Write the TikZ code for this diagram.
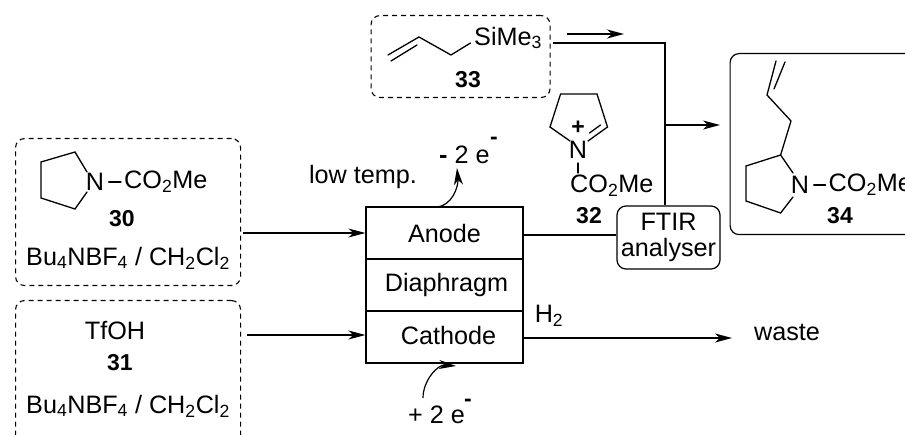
\documentclass[tikz,border=0pt]{standalone}
\usepackage{fontspec}
\setmainfont{Liberation Sans}
\usetikzlibrary{arrows.meta}
\newcommand{\ttl}{\fontsize{25.2}{29}\selectfont}
\newcommand{\numf}{\fontsize{23}{27}\selectfont\bfseries}
\newcommand{\textdn}[1]{\textsubscript{#1}}
\tikzset{
    feedbox/.style={draw, dash pattern=on 5pt off 4pt, rounded corners=9pt, line width=1.1pt, anchor=north west},
    cell/.style={draw, line width=1.2pt, minimum width=157pt, minimum height=52pt, inner sep=0pt},
    bond/.style={line width=1.3pt, line cap=round},
    flow/.style={line width=1.2pt, -{Stealth[length=17pt,width=9pt,inset=5pt]}},
    pipe/.style={line width=1.2pt},
    atom/.style={inner sep=1.5pt},
    lbl/.style={inner sep=0pt}
}
\begin{document}
\begin{tikzpicture}[x=1pt, y=-1pt, font=\ttl]
        \clip (0,0) rectangle (905,435);

        % Feed boxes
        \node[feedbox, minimum width=225pt, minimum height=147pt] (feed30) at (15,138) {};
        \node[feedbox, minimum width=225pt, minimum height=150pt] (feed31) at (15,300) {};
        \node[feedbox, minimum width=179pt, minimum height=82pt] (feed33) at (370.5,15) {};
        \node[draw, line width=1.2pt, rounded corners=9pt, anchor=north west, minimum width=240pt, minimum height=181pt] (prod34) at (729.5,53) {};

        % Cell
        \node[cell] (anode) at (444.5,233) {Anode};
        \node[cell] (diaphragm) at (444.5,285) {\hspace*{4pt}Diaphragm};
        \node[cell] (cathode) at (444.5,337) {\hspace*{8pt}\raisebox{3pt}{Cathode}};
        \node[draw, line width=1.2pt, rounded corners=9pt, align=center, minimum width=103pt, minimum height=63pt, inner sep=0pt] (ftir) at (668.5,237.5) {FTIR\\[-3pt]analyser};

        % Compound 30
        \node[atom] (n30) at (95,182) {N};
        \node[lbl, anchor=west] (co30) at (124,182) {CO\textdn{2}Me};
        \draw[bond] (87,172) -- (75,152) -- (41,162) -- (41,198) -- (75,209) -- (87,192);
        \draw[bond] (n30.east) ++(3,0) -- ([xshift=-3pt]co30.west);
        \node[lbl, font=\numf] (num30) at (122,219) {30};
        \node[lbl, anchor=west] (salt30) at (26,258) {Bu\textdn{4}NBF\textdn{4} / CH\textdn{2}Cl\textdn{2}};

        % Compound 31
        \node[lbl] (tfoh) at (115,331) {TfOH};
        \node[lbl, font=\numf] (num31) at (120,363) {31};
        \node[lbl, anchor=west] (salt31) at (26,406) {Bu\textdn{4}NBF\textdn{4} / CH\textdn{2}Cl\textdn{2}};

        % Compound 33
        \node[lbl, anchor=west] (si33) at (474,38) {SiMe\textdn{3}};
        \draw[bond] (388,55) -- (419,37) -- (451,55) -- (470.5,43);
        \draw[bond] (391,61) -- (417,45);
        \node[lbl, font=\numf] (num33) at (468,80) {33};

        % Cation 32
        \node[atom] (n32) at (578,150) {N};
        \node[lbl, font=\numf] (plus32) at (578,128) {+};
        \node[lbl, anchor=west] (co32) at (570,186) {CO\textdn{2}Me};
        \node[lbl, font=\numf] (num32) at (589,216) {32};
        \draw[bond] (570,141) -- (550,127) -- (560.6,94) -- (597,94) -- (607.5,127) -- (588,141);
        \draw[bond] (600.5,125) -- (589.5,133);
        \draw[bond] (578,163) -- (578,173);

        % Product 34
        \node[atom] (n34) at (800,185) {N};
        \node[lbl, anchor=west] (co34) at (828.5,185) {CO\textdn{2}Me};
        \node[lbl, font=\numf] (num34) at (840,216) {34};
        \draw[bond] (785,62) -- (774,89);
        \draw[bond] (776,61) -- (767,95) -- (791,121) -- (780.6,155) -- (746,166) -- (746,201) -- (780.6,213) -- (793,197);
        \draw[bond] (780.6,155) -- (793,173);
        \draw[bond] (n34.east) ++(3,0) -- ([xshift=-3pt]co34.west);

        % Flows
        \coordinate (in30) at (243,233);
        \coordinate (in31) at (247,335);
        \draw[flow] (in30) -- (anode.west);
        \draw[flow, line width=1.5pt] (in31) -- (in31 -| cathode.west);

        \node[lbl] (lowtemp) at (363,177) {low temp.};
        \node[lbl, anchor=west] (minus2e) at (439,155) {{\bfseries -} 2 e};
        \node[lbl, font=\numf] (minussup) at (494,141) {-};
        \coordinate (oxout) at (435,207);
        \coordinate (oxtip) at (457,168);
        \draw[flow] (oxout) to[out=0, in=-85] (oxtip);

        \node[lbl, anchor=west] (plus2e) at (408,415) {+ 2 e};
        \node[lbl, font=\numf] (plussup) at (468,403) {-};
        \coordinate (redin) at (423,398);
        \coordinate (redtip) at (456,366);
        \draw[flow] (redin) to[out=90, in=175] (redtip);

        \coordinate (anodeout) at (523,235);
        \draw[pipe] (anodeout) -- (anodeout -| ftir.west);

        \coordinate (h2end) at (732,338);
        \draw[flow] (cathode.east |- h2end) -- (h2end);
        \node[lbl] (h2) at (549,316) {H\textdn{2}};
        \node[lbl] (waste) at (787,332) {waste};

        % Allylsilane line
        \coordinate (mark1) at (567,34);
        \coordinate (mark2) at (624,34);
        \draw[flow, line width=1.5pt] (mark1) -- (mark2);
        \coordinate (corner) at (665,43);
        \draw[pipe, line width=2pt] (553,43) -- (corner) -- (corner |- ftir.north);
        \coordinate (tee) at (665,125);
        \coordinate (teetip) at (720,125);
        \draw[flow] (tee) -- (teetip);

\end{tikzpicture}
\end{document}
